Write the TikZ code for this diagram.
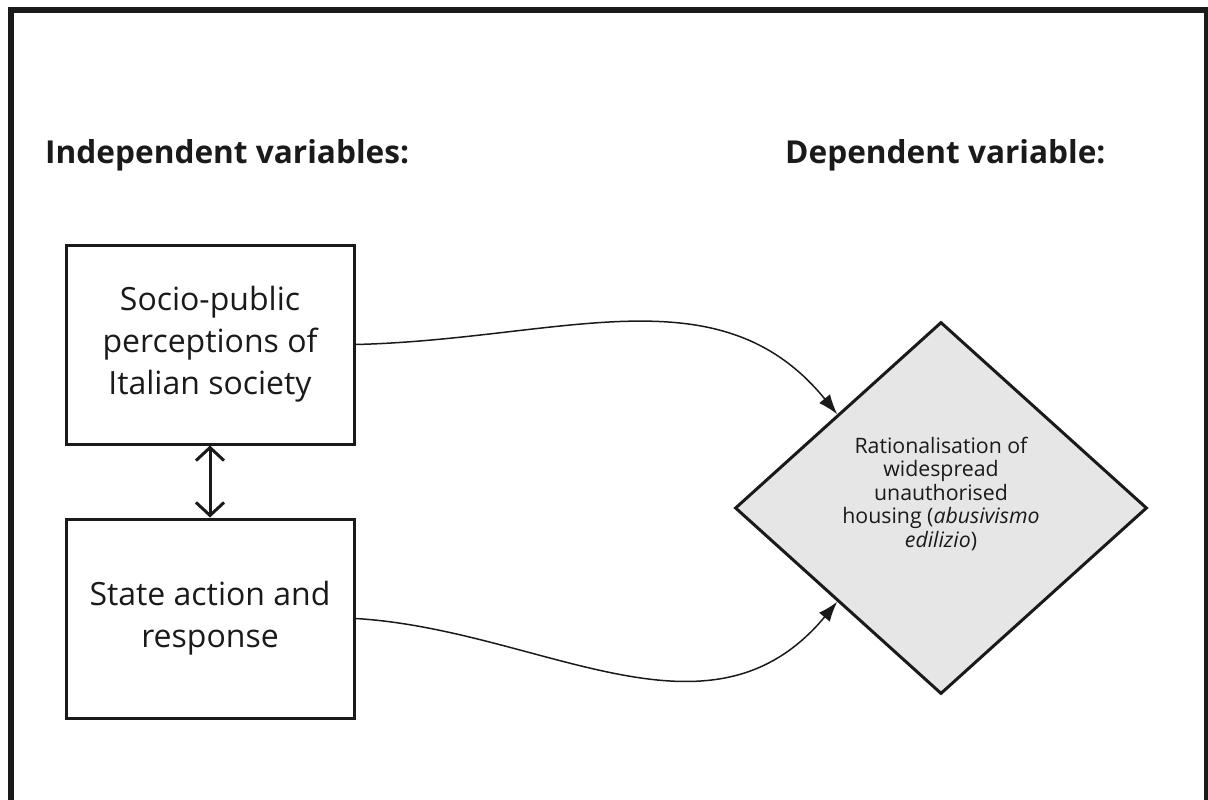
\documentclass[tikz,border=0pt]{standalone}
\usepackage{fontspec}
\setmainfont{Open Sans}
\usepackage{xcolor}
\usepackage{tikz}
\usetikzlibrary{shapes.geometric,arrows.meta}
\definecolor{ink}{HTML}{1A1A1A}
\definecolor{dvgray}{HTML}{E6E6E6}

\begin{document}
\begin{tikzpicture}[x=1pt,y=-1pt,
    varbox/.style={draw=ink,line width=3pt,minimum width=288pt,minimum height=199pt,inner sep=0pt,align=center,text=ink,font=\fontsize{32}{42}\selectfont},
    heading/.style={anchor=base west,inner sep=0pt,text=ink,font=\fontsize{31.6}{38}\selectfont\bfseries}]
        \useasboundingbox (0,0) rectangle (1208,800);
        \draw[ink,line width=6pt] (11,800) -- (11,10) -- (1207,10) -- (1207,800);

        \node[heading] (indep) at (45,163) {Independent variables:};
        \node[heading] (dep) at (785,163) {Dependent variable:};

        \node[varbox] (b1) at (210,344.5) {Socio-public\\perceptions of\\Italian society};
        \node[varbox] (b2) at (210,618.5) {State action and\\response};

        \node[diamond,draw=ink,fill=dvgray,line width=3pt,minimum width=412pt,minimum height=372pt,inner sep=0pt] (dv) at (941,508) {};
        \node[align=center,text=ink,font=\fontsize{21.3}{23.5}\selectfont] (dvtext) at (941,494) {Rationalisation of\\widespread\\unauthorised\\housing (\textit{abusivismo}\\\textit{edilizio})};

        \draw[ink,line width=3pt,{Straight Barb[length=13pt,width=28pt]}-{Straight Barb[length=13pt,width=28pt]}] (b1.south) -- (b2.north);
        \draw[ink,line width=1.5pt,-{Latex[length=20pt,width=14pt]}] (b1.east) .. controls +(206,-5) and +(-118,-145) .. (dv.north west);
        \draw[ink,line width=1.5pt,-{Latex[length=20pt,width=14pt]}] (b2.east) .. controls +(186,11) and +(-128,154) .. (dv.south west);

    \end{tikzpicture}
\end{document}
